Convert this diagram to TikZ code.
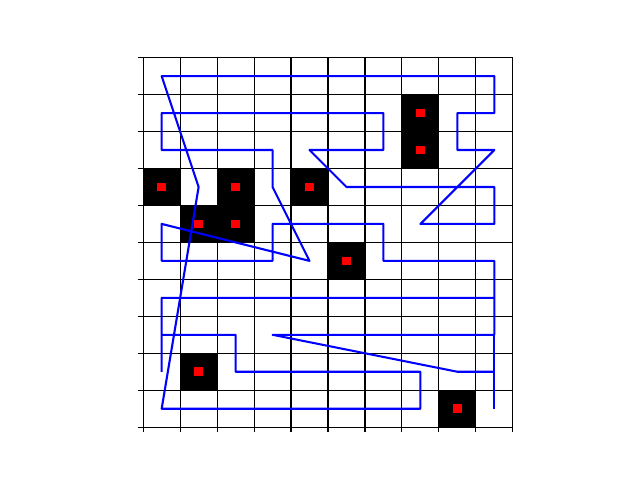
\documentclass[tikz,border=0pt]{standalone}
\begin{document}
\begin{tikzpicture}[x=0.3696in,y=-0.3696in,
  gridline/.style={line width=0.8pt,black},
  tick/.style={line width=0.8pt,black},
  route/.style={line width=1.5pt,blue,line join=round},
  wall/.style={fill=black},
  marker/.style={fill=red}]
\useasboundingbox (-3.8745,-1.5584) rectangle (13.4416,11.4286);
% black cells
\foreach \c/\r in {7/1,7/2,0/3,2/3,4/3,1/4,2/4,5/5,1/8,8/9}{
  \fill[wall] (\c,\r) rectangle ++(1,1);
}
% grid
\foreach \i in {0,...,10}{
  \draw[gridline] (\i,0) -- (\i,10);
  \draw[gridline] (0,\i) -- (10,\i);
}
% ticks
\foreach \i in {0,...,10}{
  \draw[tick] (\i,10) -- ++(0,0.1315);
  \draw[tick] (0,\i) -- ++(-0.1315,0);
}
% route
\draw[route] (0.5,7.5) -- (2.5,7.5) -- (2.5,8.5) -- (7.5,8.5) -- (7.5,9.5) -- (0.5,9.5)
  -- (1.5,3.5) -- (0.5,0.5) -- (9.5,0.5) -- (9.5,1.5) -- (8.5,1.5) -- (8.5,2.5) -- (9.5,2.5)
  -- (7.5,4.5) -- (9.5,4.5) -- (9.5,3.5) -- (5.5,3.5) -- (4.5,2.5) -- (6.5,2.5) -- (6.5,1.5)
  -- (0.5,1.5) -- (0.5,2.5) -- (3.5,2.5) -- (3.5,3.5) -- (4.5,5.5) -- (0.5,4.5) -- (0.5,5.5)
  -- (3.5,5.5) -- (3.5,4.5) -- (6.5,4.5) -- (6.5,5.5) -- (9.5,5.5) -- (9.5,6.5) -- (0.5,6.5)
  -- (0.5,8.5);
\draw[route] (9.5,6.5) -- (9.5,7.5) -- (3.5,7.5) -- (8.5,8.5) -- (9.5,8.5);
\draw[route] (9.5,7.5) -- (9.5,9.5);
% markers
\foreach \c/\r in {7/1,7/2,0/3,2/3,4/3,1/4,2/4,5/5,1/8,8/9}{
  \fill[marker] (\c+0.382,\r+0.382) rectangle ++(0.236,0.236);
}
\end{tikzpicture}
\end{document}
